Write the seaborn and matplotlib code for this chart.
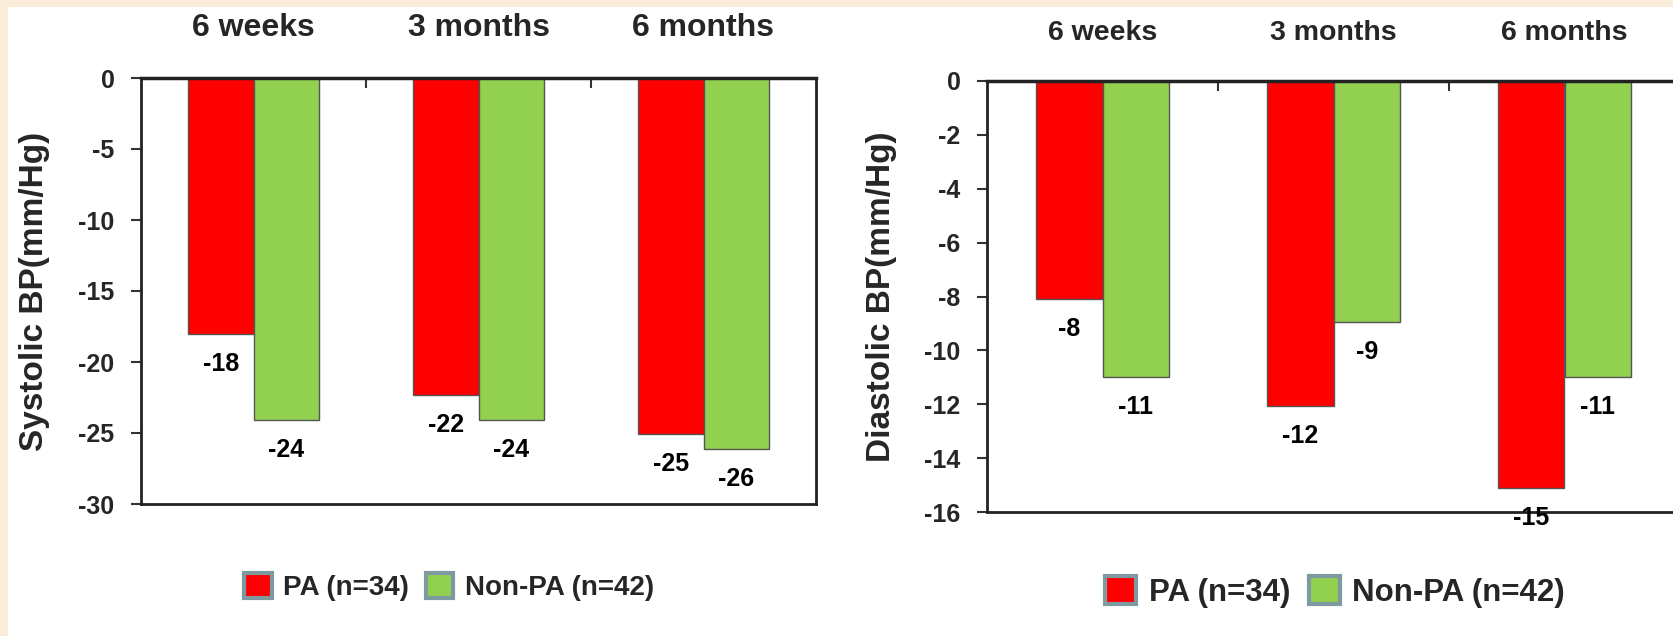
import numpy as np
import pandas as pd
import matplotlib.pyplot as plt
from matplotlib.patches import Patch, Rectangle
import seaborn as sns

# ------------------------------------------------------------
# data
# ------------------------------------------------------------
PERIODS = ["6 weeks", "3 months", "6 months"]
GROUPS = ["PA (n=34)", "Non-PA (n=42)"]

SYS_PA = [-18.0, -22.3, -25.1]
SYS_NONPA = [-24.1, -24.1, -26.1]
DIA_PA = [-8.1, -12.05, -15.1]
DIA_NONPA = [-11.0, -8.95, -11.0]

SYS_TICKS = [0, -5, -10, -15, -20, -25, -30]
DIA_TICKS = [0, -2, -4, -6, -8, -10, -12, -14, -16]

COLORS = {"PA (n=34)": "#FF0000", "Non-PA (n=42)": "#92D050"}
BG = "#FAEEDA"
W, H, DPI = 1673, 636, 100

sns.set_style("white")
plt.rcParams["font.family"] = ["Liberation Sans", "DejaVu Sans"]
plt.rcParams["axes.unicode_minus"] = False


def make_df(pa, nonpa):
    return pd.DataFrame({
        "period": PERIODS * 2,
        "group": [GROUPS[0]] * 3 + [GROUPS[1]] * 3,
        "value": list(pa) + list(nonpa),
    })


def draw_panel(ax, df, ylim, yticks, ylabel, label_x, cat_size, cat_pad):
    sns.barplot(data=df, x="period", y="value", hue="group", order=PERIODS,
                hue_order=GROUPS, palette=COLORS, saturation=1, width=0.58,
                errorbar=None, edgecolor="#555555", linewidth=1.0,
                legend=False, ax=ax)
    ax.set_xlim(-0.5, 2.5)
    ax.set_ylim(*ylim)
    ax.set_yticks(yticks)
    ax.set_yticklabels([str(t) for t in yticks], fontsize=18, fontweight="bold")

    # category names on top
    ax.xaxis.tick_top()
    ax.set_xticks(range(len(PERIODS)))
    ax.set_xticklabels(PERIODS, fontsize=cat_size, fontweight="bold")
    ax.set_xticks([0.5, 1.5], minor=True)
    ax.tick_params(axis="x", which="major", length=0, pad=cat_pad)
    ax.tick_params(axis="x", which="minor", direction="in", length=7,
                   width=1.5, color="#333333", top=True, bottom=False)
    ax.tick_params(axis="y", direction="out", length=7, width=1.5,
                   color="#333333", pad=12, left=True)
    ax.set_xlabel("")
    ax.set_ylabel(ylabel, fontsize=24, fontweight="bold")
    ax.yaxis.set_label_coords(label_x, 0.5)

    for side in ["left", "right", "bottom"]:
        ax.spines[side].set_color("#222222")
        ax.spines[side].set_linewidth(2)
    ax.spines["top"].set_color("#222222")
    ax.spines["top"].set_linewidth(2.5)

    for cont in ax.containers:
        lbls = ax.bar_label(cont, fmt="%.0f", padding=13, fontsize=18,
                            fontweight="bold", color="black")
        for t in lbls:
            t.set_clip_on(False)
            t.set_zorder(5)


fig = plt.figure(figsize=(W / DPI, H / DPI), dpi=DPI, facecolor=BG)
fig.patches.append(Rectangle((8 / W, 0), 1, 1 - 7 / H, transform=fig.transFigure,
                             facecolor="white", edgecolor="none", zorder=-10))

ax1 = fig.add_axes([141 / W, 1 - 504 / H, 675 / W, 426 / H])
ax2 = fig.add_axes([987 / W, 1 - 512 / H, 693 / W, 431 / H])

draw_panel(ax1, make_df(SYS_PA, SYS_NONPA), (-30, 0), SYS_TICKS,
           "Systolic BP(mm/Hg)", -0.135, 23, 25)
draw_panel(ax2, make_df(DIA_PA, DIA_NONPA), (-16, 0), DIA_TICKS,
           "Diastolic BP(mm/Hg)", -0.13, 20.5, 25)
ax2.spines["right"].set_visible(False)

handles = [Patch(facecolor=COLORS[g], edgecolor="#7E9AA1", linewidth=3, label=g)
           for g in GROUPS]
for cx, cy, size in [(449 / W, 1 - 587 / H, 20), (1335 / W, 1 - 592 / H, 22.5)]:
    fig.legend(handles=handles, loc="center", bbox_to_anchor=(cx, cy), ncol=2,
               frameon=False, handlelength=1.0, handleheight=1.0,
               handletextpad=0.4, columnspacing=0.6,
               prop={"size": size, "weight": "bold"})

fig.savefig("out.png", dpi=DPI, facecolor=BG)
